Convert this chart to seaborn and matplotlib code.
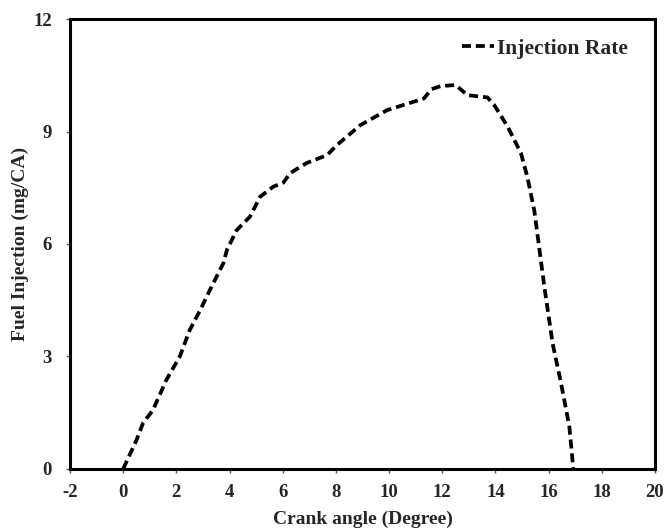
import numpy as np
import pandas as pd
import seaborn as sns
import matplotlib
matplotlib.use("Agg")
import matplotlib.pyplot as plt

# crank angle (deg) and injection rate (mg/CA)
crank_angle = [0.0, 0.5, 0.75, 1.12, 1.62, 2.13, 2.5, 2.9, 3.26, 3.77, 3.9, 4.27, 4.77,
               5.15, 5.65, 6.03, 6.28, 6.9, 7.67, 8.04, 8.92, 9.93, 11.31, 11.6, 11.94,
               12.5, 12.95, 13.7, 13.95, 14.46, 14.96, 15.2, 15.46, 15.84, 16.15, 16.47,
               16.78, 16.93]
injection_rate = [0.0, 0.77, 1.23, 1.57, 2.37, 3.0, 3.7, 4.24, 4.77, 5.49, 5.84, 6.37, 6.73,
                  7.26, 7.53, 7.64, 7.89, 8.16, 8.37, 8.64, 9.17, 9.57, 9.88, 10.13, 10.21,
                  10.24, 9.97, 9.91, 9.71, 9.13, 8.42, 7.79, 6.9, 4.86, 3.35, 2.28,
                  1.13, 0.0]
x_ticks = [-2, 0, 2, 4, 6, 8, 10, 12, 14, 16, 18, 20]
y_ticks = [0, 3, 6, 9, 12]

df = pd.DataFrame({"Crank angle": crank_angle, "Injection Rate": injection_rate})

sns.set_style("white")
plt.rcParams["font.family"] = ["Liberation Serif", "DejaVu Serif"]
plt.rcParams["font.weight"] = "bold"
plt.rcParams["axes.unicode_minus"] = False

fig = plt.figure(figsize=(6.64, 5.31), dpi=100)
ax = fig.add_axes([0.1054, 0.1168, 0.8810, 0.8474])

sns.lineplot(data=df, x="Crank angle", y="Injection Rate", ax=ax, color="black",
             linewidth=2.7, label="Injection Rate", sort=False)
ax.lines[0].set_dashes((2.4, 1.3))

ax.set_xlim(-2, 20)
ax.set_ylim(0, 12)
ax.set_xticks(x_ticks)
ax.set_yticks(y_ticks)
ax.set_xlabel("Crank angle (Degree)", fontsize=14, fontweight="bold", labelpad=7)
ax.set_ylabel("Fuel Injection (mg/CA)", fontsize=14, fontweight="bold", labelpad=3)

for s in ax.spines.values():
    s.set_linewidth(2.2)
    s.set_color("black")
ax.tick_params(axis="both", direction="out", length=3, width=1, color="#555555",
               labelsize=13.5)
ax.tick_params(axis="x", pad=8)
ax.tick_params(axis="y", pad=10)
ax.tick_params(axis="both", which="both", bottom=True, left=True)

leg = ax.legend(loc="upper right", bbox_to_anchor=(1.0, 1.016), frameon=False,
                prop={"family": "Liberation Serif", "weight": "bold", "size": 15.5},
                handlelength=1.5, handletextpad=0.15, borderaxespad=0.85)

fig.savefig("out.png", dpi=100)
